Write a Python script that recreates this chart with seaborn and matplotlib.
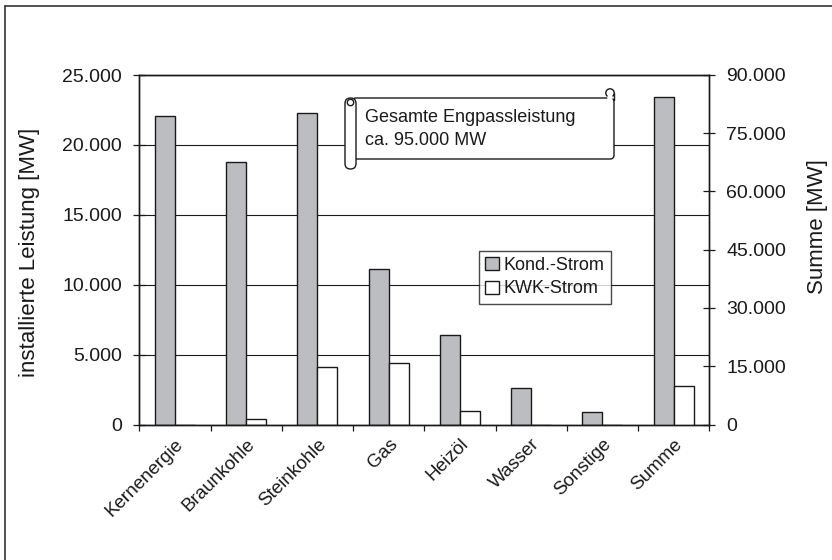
import matplotlib
matplotlib.use("Agg")
import matplotlib.pyplot as plt
import seaborn as sns
import pandas as pd
import numpy as np
from matplotlib.patches import FancyBboxPatch, Circle, Patch
from matplotlib.lines import Line2D
from matplotlib.transforms import Affine2D
from matplotlib.ticker import FixedLocator, FuncFormatter

# --- data -----------------------------------------------------------------
categories = ["Kernenergie", "Braunkohle", "Steinkohle", "Gas", "Heizöl",
              "Wasser", "Sonstige", "Summe"]
series = ["Kond.-Strom", "KWK-Strom"]
kond = [22100, 18800, 22300, 11100, 6400, 2600, 900]      # left axis
kwk = [0, 400, 4100, 4400, 1000, 0, 0]                    # left axis
summe_kond = 84300                                        # right axis
summe_kwk = 9900                                          # right axis
left_ticks = [0, 5000, 10000, 15000, 20000, 25000]
right_ticks = [0, 15000, 30000, 45000, 60000, 75000, 90000]
note_lines = ["Gesamte Engpassleistung", "ca. 95.000 MW"]

# --- style ------------------------------------------------------------------
sns.set_style("ticks")
plt.rcParams["font.family"] = ["Liberation Sans", "DejaVu Sans"]
plt.rcParams["text.color"] = "#1a1a1a"
ink = "#1a1a1a"
gray = "#bcbdc1"

W, H = 832, 560
fig = plt.figure(figsize=(W / 100, H / 100), dpi=100)
fig.patch.set_facecolor("white")

# pixel coordinates measured from the top-left corner
px = Affine2D().scale(0.01, -0.01).translate(0, H / 100) + fig.dpi_scale_trans

x0, x1, y_top, y_bot = 139.3, 709.3, 75.0, 424.5
ax = fig.add_axes([x0 / W, 1 - y_bot / H, (x1 - x0) / W, (y_bot - y_top) / H])
ax2 = ax.twinx()

df_left = pd.DataFrame({
    "Kategorie": categories[:-1] * 2,
    "Reihe": [series[0]] * len(kond) + [series[1]] * len(kwk),
    "Leistung": kond + kwk,
})
df_right = pd.DataFrame({
    "Kategorie": [categories[-1]] * 2,
    "Reihe": series,
    "Leistung": [summe_kond, summe_kwk],
})

palette = {series[0]: gray, series[1]: "white"}
common = dict(x="Kategorie", y="Leistung", hue="Reihe", order=categories,
              hue_order=series, palette=palette, width=0.56, saturation=1,
              edgecolor=ink, linewidth=1.0, legend=False, errorbar=None)
sns.barplot(data=df_left, ax=ax, **common)
sns.barplot(data=df_right, ax=ax2, **common)

for a in (ax, ax2):
    a.set_xlim(-0.5, len(categories) - 0.5)
    a.set_xlabel("")
    a.set_ylabel("")
    for s in a.spines.values():
        s.set_visible(True)
        s.set_color(ink)
        s.set_linewidth(1.0)

ax.set_ylim(0, left_ticks[-1])
ax2.set_ylim(0, right_ticks[-1])

fmt = FuncFormatter(lambda v, p: f"{v:,.0f}".replace(",", "."))
ax.yaxis.set_major_locator(FixedLocator(left_ticks))
ax.yaxis.set_major_formatter(fmt)
ax2.yaxis.set_major_locator(FixedLocator(right_ticks))
ax2.yaxis.set_major_formatter(fmt)

ax.set_axisbelow(True)
ax.yaxis.grid(True, color=ink, linewidth=0.8)
ax.xaxis.grid(False)
ax2.grid(False)

ax.tick_params(axis="y", direction="inout", length=8.6, width=0.9,
               color=ink, labelsize=14, labelcolor=ink, pad=8)
ax2.tick_params(axis="y", direction="inout", length=8.6, width=0.9,
                color=ink, labelsize=14, labelcolor=ink, pad=8)

# category labels at the centres, tick marks at the boundaries
ax.set_xticks(range(len(categories)))
ax.set_xticklabels(categories, rotation=45, ha="right",
                   rotation_mode="anchor", fontsize=13.5, color=ink)
ax.set_xticks(np.arange(-0.5, len(categories)), minor=True)
ax.tick_params(axis="x", which="major", length=0, pad=8)
ax.tick_params(axis="x", which="minor", length=4, width=0.9,
               direction="out", color=ink)

# axis titles
fig.text(30 / W, 1 - 252 / H, "installierte Leistung [MW]", rotation=90,
         ha="center", va="center", fontsize=16, color=ink)
fig.text(818 / W, 1 - 227 / H, "Summe [MW]", rotation=90,
         ha="center", va="center", fontsize=16, color=ink)

# legend
handles = [Patch(facecolor=gray, edgecolor=ink, linewidth=1.0, label=series[0]),
           Patch(facecolor="white", edgecolor=ink, linewidth=1.0, label=series[1])]
leg = ax2.legend(handles=handles, loc="upper left",
                 bbox_to_anchor=(0.596, 0.497), frameon=True, fancybox=False,
                 fontsize=13, handlelength=0.75, handleheight=0.75,
                 handletextpad=0.25, borderpad=0.35, labelspacing=0.35,
                 borderaxespad=0)
leg.get_frame().set_edgecolor(ink)
leg.get_frame().set_linewidth(1.0)
leg.set_zorder(10)

# scroll-shaped note
z = 20
body = FancyBboxPatch((352, 98), 262, 61,
                      boxstyle="round,pad=0,rounding_size=4",
                      transform=px, facecolor="white", edgecolor=ink,
                      linewidth=1.0, zorder=z)
fig.patches.append(body)
fig.patches.append(Circle((610, 93), 4.2, transform=px, facecolor="white",
                          edgecolor=ink, linewidth=1.0, zorder=z + 1))
fig.lines.append(Line2D([614.2, 614.2], [93, 100], transform=px, color=ink,
                        linewidth=1.0, zorder=z + 2))
fig.patches.append(Circle((610, 97.6), 2.8, transform=px, facecolor="white",
                          edgecolor="none", zorder=z + 2))
roll = FancyBboxPatch((345, 98), 11, 71,
                      boxstyle="round,pad=0,rounding_size=5.5",
                      transform=px, facecolor="white", edgecolor=ink,
                      linewidth=1.0, zorder=z + 3)
fig.patches.append(roll)
fig.patches.append(Circle((350.5, 102.5), 3.2, transform=px,
                          facecolor="white", edgecolor=ink, linewidth=1.0,
                          zorder=z + 4))
for i, line in enumerate(note_lines):
    fig.text(365 / W, 1 - (118 + i * 22.5) / H, line, ha="left", va="center",
             fontsize=13, color=ink, zorder=z + 5)

# outer frame lines (top and left)
fig.lines.append(Line2D([4.5, W], [5.5, 5.5], transform=px, color="#333333",
                        linewidth=1.2))
fig.lines.append(Line2D([4.5, 4.5], [5.5, H], transform=px, color="#333333",
                        linewidth=1.2))

fig.savefig("out.png", dpi=100, facecolor="white")
